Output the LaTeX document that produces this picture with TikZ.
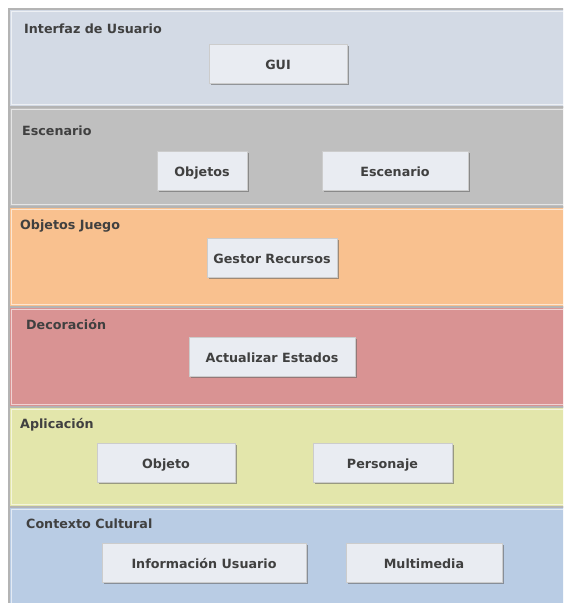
\documentclass[tikz,border=0pt]{standalone}
\usepackage{fontspec}
\setmainfont{DejaVu Sans}
\usetikzlibrary{shadows}

\definecolor{bandA}{HTML}{D3DAE5}
\definecolor{bandB}{HTML}{BFBFBF}
\definecolor{bandC}{HTML}{F9C18F}
\definecolor{bandD}{HTML}{D99393}
\definecolor{bandE}{HTML}{E3E6AB}
\definecolor{bandF}{HTML}{B9CCE4}
\definecolor{boxfill}{HTML}{E9ECF2}
\definecolor{ink}{HTML}{404040}
\definecolor{rim}{HTML}{B4B4B4}

\tikzset{
  layertitle/.style={anchor=base west, inner sep=0pt, text=ink,
    font=\bfseries\fontsize{12.7}{14}\selectfont},
  compbox/.style={fill=boxfill, draw=gray!40, line width=0.6pt,
    minimum height=39pt, inner sep=0pt, text=ink,
    text height=11pt, text depth=0pt,
    font=\bfseries\fontsize{12.7}{14}\selectfont,
    drop shadow={shadow xshift=1.8pt, shadow yshift=-1.8pt,
      opacity=0.6, fill=black!60}},
}

% one horizontal layer: top, bottom, fill colour
\newcommand\layerband[3]{%
  \fill[#3] (9,#1) rectangle (575,#2);
  \draw[rim, line width=1.2pt] (9,#1) rectangle (575,#2);
  \draw[white, opacity=0.6, line width=1pt] (11.5,#1+2.5) rectangle (575,#2-2.5);
}

\begin{document}
\begin{tikzpicture}[x=1pt, y=-1pt]
  \useasboundingbox (0,0) rectangle (563,603);
  \clip (0,0) rectangle (563,603);

  % layers
  \layerband{9}{107}{bandA}
  \layerband{107}{207}{bandB}
  \layerband{207}{307}{bandC}
  \layerband{307}{407}{bandD}
  \layerband{407}{507}{bandE}
  \layerband{507}{612}{bandF}

  % layer titles
  \node[layertitle] (tUI)   at (24,33)    {Interfaz de Usuario};
  \node[layertitle] (tEsc)  at (22,135.5) {Escenario};
  \node[layertitle] (tObj)  at (20,229)   {Objetos Juego};
  \node[layertitle] (tDec)  at (26,329)   {Decoración};
  \node[layertitle] (tApp)  at (20,428.5) {Aplicación};
  \node[layertitle] (tCtx)  at (26,528.5) {Contexto Cultural};

  % components
  \node[compbox, minimum width=138pt] (gui)    at (278,64)    {GUI};
  \node[compbox, minimum width=90pt]  (objs)   at (202,170.5) {Objetos};
  \node[compbox, minimum width=146pt] (scene)  at (395,170.5) {Escenario};
  \node[compbox, minimum width=130pt] (gestor) at (272,257.5) {Gestor Recursos};
  \node[compbox, minimum width=166pt] (upd)    at (272,357)   {Actualizar Estados};
  \node[compbox, minimum width=138pt] (obj)    at (166,463)   {Objeto};
  \node[compbox, minimum width=139pt] (pers)   at (382.5,463) {Personaje};
  \node[compbox, minimum width=204pt] (info)   at (204,563)   {Información Usuario};
  \node[compbox, minimum width=156pt] (multi)  at (424,563)   {Multimedia};
\end{tikzpicture}
\end{document}
